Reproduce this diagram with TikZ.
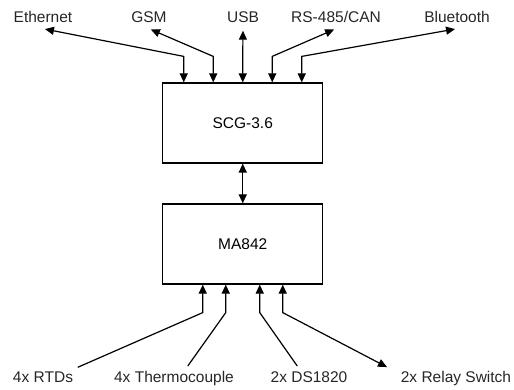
\documentclass[tikz,border=0pt]{standalone}
\usepackage{fontspec}
\setmainfont{Liberation Sans}
\usetikzlibrary{arrows.meta}

\begin{document}
\begin{tikzpicture}[x=1pt,y=-1pt,
    box/.style={draw,line width=1.2pt,minimum width=160pt,minimum height=80pt,inner sep=0pt},
    lbl/.style={text height=11pt,text depth=3pt,inner sep=3pt,text=black!85},
    wire/.style={line width=1.2pt},
    up/.style={wire,-{Triangle[width=8pt,length=9pt]}},
    both/.style={wire,{Triangle[width=8pt,length=9pt]}-{Triangle[width=8pt,length=9pt]}}]
    \useasboundingbox (0,0) rectangle (514,390);
    \begin{scope}[font=\fontsize{15.5}{18}\selectfont]
    \node[box] (scg) at (242.75,123) {SCG-3.6};
    \node[box] (mcu) at (242.75,244) {MA842};
    \node[lbl,anchor=base] (eth) at (43,22.5) {Ethernet};
    \node[lbl,anchor=base] (gsm) at (149,22.5) {GSM};
    \node[lbl,anchor=base] (usb) at (243,22.5) {USB};
    \node[lbl,anchor=base] (rs) at (336,22.5) {RS-485/CAN};
    \node[lbl,anchor=base] (bt) at (457,22.5) {Bluetooth};
    \node[lbl,anchor=base] (rtd) at (43,382.7) {4x RTDs};
    \node[lbl,anchor=base] (thc) at (174,382.7) {4x Thermocouple};
    \node[lbl,anchor=base] (ds) at (309,382.7) {2x DS1820};
    \node[lbl,anchor=base] (rel) at (456,382.7) {2x Relay Switch};
    \end{scope}
    \foreach \n/\dx in {eth/-59,gsm/-29.5,usb/0,rs/29.5,bt/59}
    \draw[both,shorten <=2pt] (\n.south) -- ([xshift=\dx pt,yshift=26pt]scg.north) -- ([xshift=\dx pt]scg.north);
    \draw[both] (scg.south) -- (mcu.north);
    \foreach \n/\sx/\dx in {rtd/32/-40,thc/12/-17,ds/-10/17}
    \draw[up,shorten <=3pt] ([xshift=\sx pt]\n.north) -- ([xshift=\dx pt,yshift=-28pt]mcu.south) -- ([xshift=\dx pt]mcu.south);
    \draw[both,shorten <=3pt] ([xshift=-8pt]rel.north west) -- ([xshift=40pt,yshift=-28pt]mcu.south) -- ([xshift=40pt]mcu.south);
\end{tikzpicture}
\end{document}
